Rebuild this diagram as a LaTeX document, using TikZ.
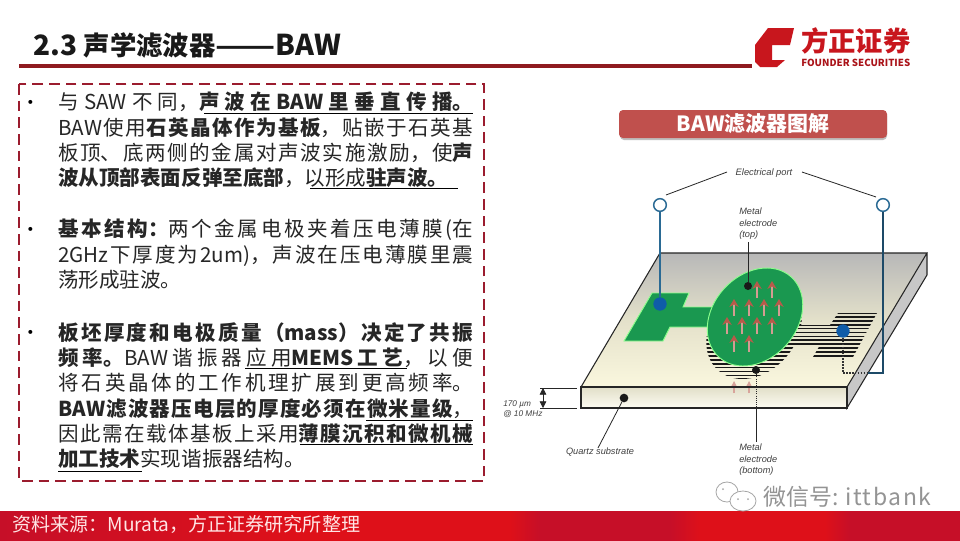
\documentclass[tikz,border=0pt]{standalone}
\usepackage{fontspec}
\usepackage{xcolor}
\usepackage{tikz}
\usetikzlibrary{arrows.meta}
\setmainfont{Noto Sans CJK SC}
\newfontfamily\labelfont{Liberation Sans}
\XeTeXlinebreaklocale "zh"
\XeTeXlinebreakskip=0pt plus 1pt
\definecolor{fzred}{HTML}{8F1A1F}
\definecolor{boxred}{HTML}{9B1C2E}
\definecolor{capred}{HTML}{C0504D}
\definecolor{logored}{HTML}{C8161D}
\definecolor{elecgreen}{HTML}{1A9850}
\definecolor{portblue}{HTML}{2A6A94}
\definecolor{dotblue}{HTML}{0F5CA8}
\definecolor{pinred}{HTML}{B85A4A}
\definecolor{cream}{HTML}{FAF7DE}
\definecolor{footA}{HTML}{C60F28}
\definecolor{footB}{HTML}{DE1019}

\begin{document}
\begin{tikzpicture}[x=0.75pt,y=-0.75pt]
      \tikzset{bodytext/.style={anchor=north west,inner sep=0pt,text width=311.25pt,align=justify,font=\fontsize{15.4pt}{19pt}\selectfont,text=black!85}}
      \tikzset{bul/.style={inner sep=0pt,font=\fontsize{14pt}{14pt}\selectfont}}
      \tikzset{smalllabel/.style={anchor=north west,inner sep=0pt,align=left,font=\labelfont\itshape\fontsize{6.9pt}{8.6pt}\selectfont,text=black!75}}
      \tikzset{dimlabel/.style={anchor=north west,inner sep=0pt,align=left,font=\labelfont\itshape\fontsize{6.2pt}{7.6pt}\selectfont,text=black!75}}
      \tikzset{uline/.style={draw=black,line width=0.7pt}}
      \tikzset{leader/.style={draw=black!85,line width=0.6pt}}
      \tikzset{stripe/.style={draw=black!90,line width=1.3pt}}
      \tikzset{elec/.style={fill=elecgreen,draw=green!45!white,line width=0.7pt}}
      \tikzset{portc/.style={circle,draw=portblue,fill=white,line width=1.1pt,minimum size=9.5pt,inner sep=0pt}}
      \tikzset{bluedot/.style={circle,fill=dotblue,minimum size=10pt,inner sep=0pt}}
      \tikzset{blackdot/.style={circle,fill=black!90,minimum size=6pt,inner sep=0pt}}
      \tikzset{pin/.style={draw=pinred!60,line width=0.8pt,-{Stealth[length=6pt,width=7pt,color=pinred]}}}
      \tikzset{eye/.style={circle,fill=black!35,minimum size=1.5pt,inner sep=0pt}}
      \def\stripes{\foreach \yy in {313,316.9,...,382}{\draw[stripe] (700,\yy) -- (885,\yy);}}

      \useasboundingbox (0,0) rectangle (960,540);
      \fill[white] (0,0) rectangle (960,540);

      % header
      \node[anchor=west,inner sep=0pt,font=\bfseries\fontsize{19.8pt}{22pt}\selectfont,text=black!90] (title) at (33,45) {{\fontsize{21pt}{22pt}\selectfont 2.3 }声学滤波器\scalebox{1.33}[1]{——}{\fontsize{21.5pt}{22pt}\selectfont BAW}};
      \coordinate (ruleL) at (19,66);
      \coordinate (ruleR) at (752,66);
      \draw[fzred,line width=3pt] (ruleL) -- (ruleR);
      \fill[logored] (768,28) -- (794,28) -- (790,45) -- (772,45) -- (772,60) -- (785,60) -- (777,67) -- (760,67) -- (755,62) -- (755,45) -- cycle;
      \node[anchor=west,inner sep=0pt,font=\bfseries\fontsize{20.5pt}{22pt}\selectfont,text=logored] (logocn) at (801,41) {方正证券};
      \node[anchor=west,inner sep=0pt,font=\bfseries\fontsize{7.3pt}{8pt}\selectfont,text=logored!85!black] (logoen) at (801,63) {FOUNDER SECURITIES};

      % text box
      \draw[boxred,line width=1.6pt,dash pattern=on 8pt off 4.5pt] (19,84) rectangle (484,481);
      \node[bul] (bulA) at (31,105) {•};
      \node[bodytext] (textA) at (58,92) {与SAW不同，\textbf{声波在BAW里垂直传播。}\linebreak BAW使用\textbf{石英晶体作为基板}，贴嵌于石英基\linebreak 板顶、底两侧的金属对声波实施激励，使\textbf{声}\linebreak \textbf{波从顶部表面反弹至底部}，以形成\textbf{驻声波。}};
      \node[bul] (bulB) at (31,232) {•};
      \node[bodytext] (textB) at (58,219) {\textbf{基本结构：}两个金属电极夹着压电薄膜(在\linebreak 2GHz下厚度为2um)，声波在压电薄膜里震\linebreak 荡形成驻波。};
      \node[bul] (bulC) at (31,335) {•};
      \node[bodytext] (textC) at (58,322) {\textbf{板坯厚度和电极质量（mass）决定了共振}\linebreak \textbf{频率。}BAW谐振器应用\textbf{MEMS工艺}，以便\linebreak 将石英晶体的工作机理扩展到更高频率。\linebreak \textbf{BAW滤波器压电层的厚度必须在微米量级}，\linebreak 因此需在载体基板上采用\textbf{薄膜沉积和微机械}\linebreak \textbf{加工技术}实现谐振器结构。};
      \draw[uline] (204,113) -- (473,113);
      \draw[uline] (310,188) -- (458,188);
      \draw[uline] (245,368) -- (407,368);
      \draw[uline] (366,420) -- (473,420);
      \draw[uline] (300,444) -- (473,444);
      \draw[uline] (58,471) -- (142,471);

      % caption
      \fill[black!25,rounded corners=3pt] (620,112) rectangle (887,140);
      \node[fill=capred,rounded corners=3pt,minimum width=201pt,minimum height=21pt,inner sep=0pt,text=white,font=\bfseries\fontsize{15.7pt}{18pt}\selectfont] (caption) at (753,124) {\raisebox{-1pt}{BAW滤波器图解}};

      % slab
      \shade[top color=black!28,bottom color=cream,middle color=black!9!cream] (660,253) -- (927,253) -- (847,387) -- (581,387) -- cycle;
      \shade[top color=cream!90!black,bottom color=cream!40!white] (581,387) rectangle (847,408);
      \fill[black!22] (847,387) -- (927,253) -- (927,275) -- (847,408) -- cycle;

      % bottom electrode
      \begin{scope}
        \clip[shift={(754,330)},rotate=48] (0,0) ellipse [x radius=54,y radius=42];
        \stripes
      \end{scope}
      \begin{scope}
        \clip (780,325) -- (830,325) -- (838,313) -- (877,313) -- (853,357) -- (813,357) -- (820,345) -- (780,345) -- cycle;
        \stripes
      \end{scope}

      \foreach \ax in {734,749}{\draw[draw=pinred!55,line width=0.8pt,-{Stealth[length=5pt,width=5pt,color=pinred!55]}] (\ax,393) -- (\ax,381);}
      \foreach \ax in {729,744}{\draw[draw=pinred!55,line width=0.8pt] (\ax,387) -- ({\ax+10},387);}

      \draw[black!85,line width=0.8pt] (581,408) rectangle (847,387);
      \draw[black!85,line width=0.8pt] (581,387) -- (660,253) -- (927,253) -- (847,387) -- (847,408) -- (927,275) -- (927,253);

      % top electrode
      \path[elec] (652,293) -- (689,293) -- (683,307) -- (720,307) -- (715,327) -- (670,327) -- (663,341) -- (624,341) -- cycle;
      \path[elec,shift={(755,317)},rotate=48] (0,0) ellipse [x radius=54,y radius=42];
      \foreach \ax/\ay in {757/284,772/284,734/302,749/302,764/302,779/302,727/320,742/320,757/320,772/320,734/338,749/338}{
        \draw[pin] (\ax,{\ay+14}) -- (\ax,{\ay-3});
      }

      % ports
      \node[portc] (portL) at (660,205) {};
      \node[portc] (portR) at (883,205) {};
      \node[bluedot] (dotL) at (660,304) {};
      \node[bluedot] (dotR) at (843,331) {};
      \coordinate (cornerD) at (843,373);
      \coordinate (cornerM) at (868,373);
      \draw[portblue,line width=1.1pt] (portL) -- (dotL);
      \draw[black!80,line width=1.2pt,densely dotted] (dotR) -- (cornerD) -- (cornerM);
      \draw[portblue!70!black,line width=1.1pt] (portR) |- (cornerM);

      \node[inner sep=0pt,font=\labelfont\itshape\fontsize{7pt}{8pt}\selectfont,text=black!75] (portlbl) at (764,173) {Electrical port};
      \coordinate (portlineA) at (727,172);
      \coordinate (portlineB) at (666,195);
      \coordinate (portlineC) at (802,172);
      \coordinate (portlineD) at (876,197);
      \draw[leader] (portlineA) -- (portlineB);
      \draw[leader] (portlineC) -- (portlineD);

      % labels
      \node[smalllabel] (toplbl) at (739,208) {Metal\\electrode\\(top)};
      \node[blackdot] (dotTop) at (748,286) {};
      \coordinate (topend) at (748,242);
      \draw[leader] (topend) -- (dotTop);

      \node[blackdot] (dotBot) at (756,370) {};
      \coordinate (botmid) at (756,408);
      \coordinate (botend) at (756,442);
      \draw[leader,densely dotted] (dotBot) -- (botmid);
      \draw[leader] (botmid) -- (botend);
      \node[smalllabel] (botlbl) at (739,444) {Metal\\electrode\\(bottom)};

      \node[blackdot,minimum size=6.5pt] (dotQ) at (624,398) {};
      \node[inner sep=0pt,font=\labelfont\itshape\fontsize{6.9pt}{8pt}\selectfont,text=black!75] (quartz) at (600,452) {Quartz substrate};
      \coordinate (quartzend) at (598,448);
      \draw[leader] (dotQ) -- (quartzend);

      \coordinate (dimT) at (543,388);
      \coordinate (dimB) at (543,408);
      \draw[leader] (540,388) -- (577,388);
      \draw[leader] (540,408) -- (577,408);
      \draw[black!85,line width=0.6pt,{Triangle[length=5pt,width=5pt]}-{Triangle[length=5pt,width=5pt]}] (dimT) -- (dimB);
      \node[dimlabel] (dimlbl) at (503,400) {170 µm\\@ 10 MHz};

      % footer
      \fill[footA] (0,511) rectangle (960,544);
      \shade[left color=footA,right color=footB] (0,511) rectangle (300,544);
      \fill[footB] (300,511) rectangle (510,544);
      \shade[left color=footB,right color=footA] (510,511) rectangle (540,544);
      \shade[left color=footA,right color=footB] (670,511) rectangle (700,544);
      \fill[footB] (700,511) rectangle (825,544);
      \shade[left color=footB,right color=footA] (825,511) rectangle (850,544);
      \node[anchor=west,inner sep=0pt,text=white!90!red,font=\fontsize{14.3pt}{16pt}\selectfont] (source) at (12,524) {资料来源：Murata，方正证券研究所整理};

      % watermark
      \draw[black!35,line width=0.6pt,fill=white] (727,492) ellipse [x radius=11,y radius=10];
      \draw[black!35,line width=0.6pt,fill=white] (743,501) ellipse [x radius=13,y radius=10];
      \node[eye] (eyeA) at (723,489) {};
      \node[eye] (eyeB) at (738,499) {};
      \node[eye] (eyeC) at (748,499) {};
      \node[anchor=west,inner sep=0pt,text=black!42,font=\fontsize{17.2pt}{20pt}\selectfont] (wmark) at (763,497) {微信号: {\addfontfeature{LetterSpace=7}ittbank}};
\end{tikzpicture}
\end{document}
